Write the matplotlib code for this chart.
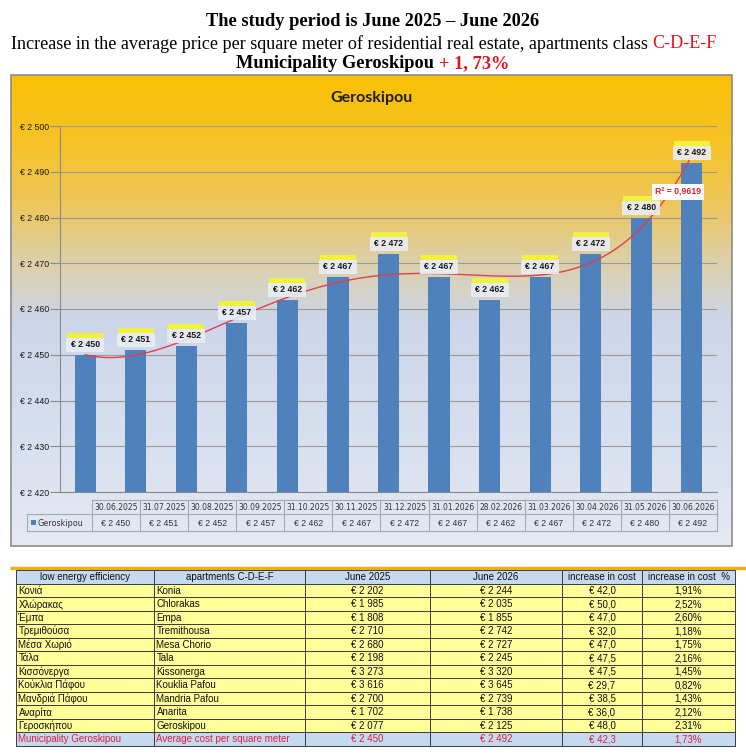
import numpy as np
import matplotlib
matplotlib.use('Agg')
import matplotlib.pyplot as plt
from matplotlib.patches import Rectangle
from matplotlib.colors import LinearSegmentedColormap
from matplotlib.ticker import FuncFormatter, MultipleLocator

# ---------------- data ----------------
dates = ['30.06.2025', '31.07.2025', '30.08.2025', '30.09.2025', '31.10.2025',
         '30.11.2025', '31.12.2025', '31.01.2026', '28.02.2026', '31.03.2026',
         '30.04.2026', '31.05.2026', '30.06.2026']
values = [2450, 2451, 2452, 2457, 2462, 2467, 2472, 2467, 2462, 2467, 2472, 2480, 2492]
series_name = 'Geroskipou'
chart_title = 'Geroskipou'
r2_text = 'R² = 0,9619'
r2_target = 0.9619

title1 = 'The study period is June 2025 – June 2026'
title2_black = 'Increase in the average price per square meter of residential real estate, apartments class '
title2_red = 'C-D-E-F'
title3_black = 'Municipality Geroskipou '
title3_red = '+ 1, 73%'

tbl_headers = ['low energy efficiency', 'apartments C-D-E-F', 'June 2025', 'June 2026',
               'increase in cost', 'increase in cost  %']
greek_names = ['Κονιά', 'Χλώρακας', 'Έμπα', 'Τρεμιθούσα', 'Μέσα Χωριό', 'Τάλα',
               'Κισσόνεργα', 'Κούκλια Πάφου', 'Μανδριά Πάφου', 'Αναρίτα', 'Γεροσκήπου']
latin_names = ['Konia', 'Chlorakas', 'Empa', 'Tremithousa', 'Mesa Chorio', 'Tala',
               'Kissonerga', 'Kouklia Pafou', 'Mandria Pafou', 'Anarita', 'Geroskipou']
june2025 = [2202, 1985, 1808, 2710, 2680, 2198, 3273, 3616, 2700, 1702, 2077]
june2026 = [2244, 2035, 1855, 2742, 2727, 2245, 3320, 3645, 2739, 1738, 2125]
increase = [42.0, 50.0, 47.0, 32.0, 47.0, 47.5, 47.5, 29.7, 38.5, 36.0, 48.0]
increase_pct = [1.91, 2.52, 2.60, 1.18, 1.75, 2.16, 1.45, 0.82, 1.43, 2.12, 2.31]
total_row = ['Municipality Geroskipou', 'Average cost per square meter']
total_2025 = 2450
total_2026 = 2492
total_inc = 42.3
total_pct = 1.73


def eur(v):
    v = int(round(v))
    return f'€ {v // 1000} {v % 1000:03d}'


def eur_dec(v):
    return ('€ %.1f' % v).replace('.', ',')


def pct(v):
    return ('%.2f%%' % v).replace('.', ',')


# ---------------- figure ----------------
W, H = 746, 756
fig = plt.figure(figsize=(W / 100, H / 100), dpi=100)
fig.patch.set_facecolor('white')

bg = fig.add_axes([0, 0, 1, 1], zorder=0)
bg.axis('off')

# chart frame with gradient
fx0, fx1, fy0, fy1 = 11, 732, 75, 546
stops = [(0.0, '#FBC006'), (0.12, '#F8C220'), (0.27, '#EEC659'), (0.39, '#DDD0A6'),
         (0.52, '#CDD6E8'), (0.70, '#D4DCEE'), (1.0, '#E4E9F3')]
cmap = LinearSegmentedColormap.from_list('grad', stops)
grad = np.linspace(0, 1, 256).reshape(-1, 1)
bg.imshow(grad, cmap=cmap, extent=(fx0, fx1, fy1, fy0), aspect='auto',
          origin='upper', zorder=0)
bg.add_patch(Rectangle((fx0, fy0), fx1 - fx0, fy1 - fy0, fill=False,
                       ec='#8C8C8C', lw=1.2, zorder=1))
bg.set_xlim(0, W)
bg.set_ylim(H, 0)

# titles
serif = 'Liberation Serif'
bg.text(W / 2, 22, title1, ha='center', va='center', fontsize=13.2,
        fontweight='bold', family=serif)

renderer = fig.canvas.get_renderer()


def two_color(y, black, red, cx, **kw):
    full = bg.text(0, y, black + red, ha='left', va='center', **kw)
    wfull = full.get_window_extent(renderer).width
    full.remove()
    x0 = cx - wfull / 2
    bg.text(x0, y, black, ha='left', va='center', color='black', **kw)
    bg.text(x0 + wfull, y, red, ha='right', va='center', color='#E8101E', **kw)


two_color(44, title2_black, title2_red, 364, fontsize=13.1, family=serif)
two_color(64, title3_black, title3_red, W / 2, fontsize=13.2, family=serif,
          fontweight='bold')

bg.text((fx0 + fx1) / 2, 98, chart_title, ha='center', va='center', fontsize=11.5,
        fontweight='bold', family='Lato', color='#1F1F1F')

# ---------------- bar plot ----------------
px0, px1, py0, py1 = 60, 717, 126, 492
ax = fig.add_axes([px0 / W, 1 - py1 / H, (px1 - px0) / W, (py1 - py0) / H], zorder=1)
ax.patch.set_alpha(0)
x = np.arange(len(values))
ax.bar(x, values, width=0.42, color='#4F81BD', zorder=2)
ax.set_xlim(-0.5, len(values) - 0.5)
ax.set_ylim(2420, 2500)
ax.yaxis.set_major_locator(MultipleLocator(10))
ax.yaxis.set_major_formatter(FuncFormatter(lambda v, p: eur(v)))
ax.grid(axis='y', color='#9C9A8C', lw=0.8, zorder=0)
ax.set_axisbelow(True)
for s in ['top', 'right']:
    ax.spines[s].set_visible(False)
for s in ['left', 'bottom']:
    ax.spines[s].set_color('#8A8A8A')
    ax.spines[s].set_linewidth(0.8)
ax.set_xticks([])
ax.tick_params(axis='y', length=7, color='#8A8A8A', labelsize=6.3, pad=1,
               labelcolor='#1A1A1A')
for lab in ax.get_yticklabels():
    lab.set_family('Liberation Sans')

# polynomial trend line (order whose R² matches the chart)
xs = np.arange(1, len(values) + 1, dtype=float)
yv = np.array(values, dtype=float)
best = None
for deg in range(2, 7):
    c = np.polyfit(xs, yv, deg)
    fit = np.polyval(c, xs)
    r2 = 1 - np.sum((yv - fit) ** 2) / np.sum((yv - yv.mean()) ** 2)
    if best is None or abs(r2 - r2_target) < best[0]:
        best = (abs(r2 - r2_target), c)
xx = np.linspace(1, len(values), 300)
ax.plot(xx - 1, np.polyval(best[1], xx), color='#E0404C', lw=1.0, zorder=3)

# ---------------- overlay for labels ----------------
top = fig.add_axes([0, 0, 1, 1], zorder=3)
top.axis('off')
top.patch.set_alpha(0)
top.set_xlim(0, W)
top.set_ylim(H, 0)

for i, v in enumerate(values):
    dx, dy = ax.transData.transform((i, v))
    ppx, ppy = dx, H - dy
    top.add_patch(Rectangle((ppx - 19, ppy - 17), 38, 14, fc='#E9EDF5', ec='none',
                            alpha=0.9, zorder=4))
    top.add_patch(Rectangle((ppx - 18, ppy - 22), 36, 5, fc='#F2F23A', ec='none',
                            zorder=4))
    top.text(ppx, ppy - 10.5, eur(v), ha='center', va='center', fontsize=6.3,
             fontweight='bold', family='Liberation Sans', color='#1A1A1A', zorder=5)

# R² label
top.text(678, 192, r2_text, ha='center', va='center', fontsize=6.3, fontweight='bold',
         family='Liberation Sans', color='#E0202A', zorder=6,
         bbox=dict(boxstyle='square,pad=0.35', fc='white', ec='none'))

# ---------------- data table under chart ----------------
dt_x0, dt_x1 = 92, 717
hx0 = 27
r0, r1, r2 = 500, 514, 531
n = len(dates)
cw = (dt_x1 - dt_x0) / n
lc = '#A8A8A8'
bg.plot([dt_x0, dt_x1], [r0, r0], color=lc, lw=0.8, zorder=2)
bg.plot([hx0, dt_x1], [r1, r1], color=lc, lw=0.8, zorder=2)
bg.plot([hx0, dt_x1], [r2, r2], color=lc, lw=0.8, zorder=2)
bg.plot([hx0, hx0], [r1, r2], color=lc, lw=0.8, zorder=2)
for k in range(n + 1):
    xk = dt_x0 + k * cw
    bg.plot([xk, xk], [r0, r2], color=lc, lw=0.8, zorder=2)
for k, (d, v) in enumerate(zip(dates, values)):
    cx = dt_x0 + (k + 0.5) * cw
    bg.text(cx, (r0 + r1) / 2 + 0.5, d, ha='center', va='center', fontsize=5.5,
            family='DejaVu Sans', color='#333333', zorder=3)
    bg.text(cx, (r1 + r2) / 2 + 0.5, eur(v), ha='center', va='center', fontsize=6.3,
            family='Liberation Sans', color='#333333', zorder=3)
bg.add_patch(Rectangle((31, 520), 5, 5, fc='#4F81BD', ec='none', zorder=3))
bg.text(37, (r1 + r2) / 2 + 0.5, series_name, ha='left', va='center', fontsize=5.8,
        family='DejaVu Sans', color='#333333', zorder=3)

# ---------------- bottom table ----------------
bg.plot([10, W], [568, 568], color='#F2AE14', lw=2.5, zorder=2,
        solid_capstyle='butt')
col_edges = [16, 154, 305, 430, 562, 642, 735]
row_top = 570
row_h = 13.5
rows = []
for g, l, a, b, c, p in zip(greek_names, latin_names, june2025, june2026, increase,
                            increase_pct):
    rows.append([g, l, eur(a), eur(b), eur_dec(c), pct(p)])
total = [total_row[0], total_row[1], eur(total_2025), eur(total_2026),
         eur_dec(total_inc), pct(total_pct)]
all_rows = [tbl_headers] + rows + [total]
aligns = ['left', 'left', 'center', 'center', 'center', 'center']
for ri, row in enumerate(all_rows):
    y0 = row_top + ri * row_h
    if ri == 0 or ri == len(all_rows) - 1:
        fc = '#C5D9F1'
    else:
        fc = '#FFFF99'
    color = '#E0203A' if ri == len(all_rows) - 1 else '#111111'
    for ci, txt in enumerate(row):
        xa, xb = col_edges[ci], col_edges[ci + 1]
        bg.add_patch(Rectangle((xa, y0), xb - xa, row_h, fc=fc, ec='#3C3C3C',
                               lw=0.7, zorder=2))
        if ri == 0 or aligns[ci] == 'center':
            tx, ha = (xa + xb) / 2, 'center'
        else:
            tx, ha = xa + 2.5, 'left'
        bg.text(tx, y0 + row_h / 2 + 0.5, txt, ha=ha, va='center', fontsize=7,
                family='Liberation Sans', color=color, zorder=3)

fig.savefig('out.png', dpi=100, facecolor='white')
